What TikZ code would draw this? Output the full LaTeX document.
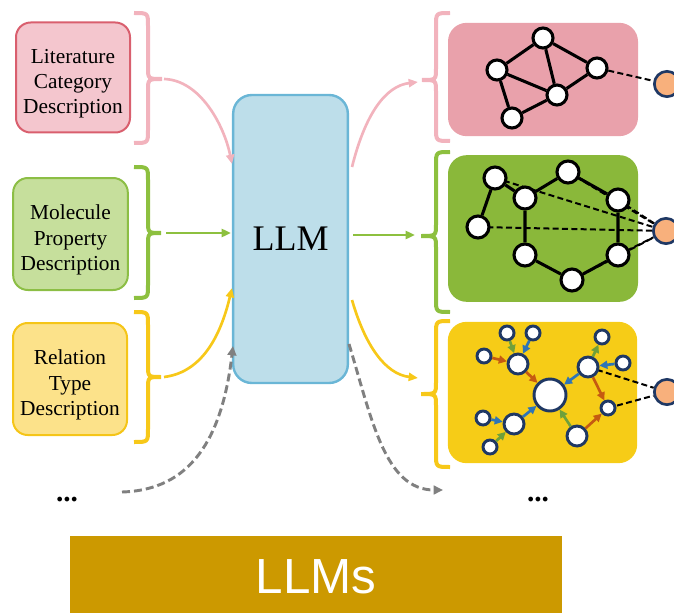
\documentclass[tikz,border=0pt]{standalone}
\usepackage{fontspec}
\setmainfont{Liberation Serif}
\newfontfamily\bannerfont{Liberation Sans}
\usetikzlibrary{arrows.meta}

\definecolor{litfill}{HTML}{F4C6CE}
\definecolor{litdraw}{HTML}{D95F6E}
\definecolor{pinkline}{HTML}{F2B3BD}
\definecolor{molfill}{HTML}{C6DF9C}
\definecolor{moldraw}{HTML}{8CBE45}
\definecolor{greenline}{HTML}{8DC03F}
\definecolor{relfill}{HTML}{FCE28A}
\definecolor{reldraw}{HTML}{F5C518}
\definecolor{yellowline}{HTML}{F7C819}
\definecolor{llmfill}{HTML}{BDDEEA}
\definecolor{llmdraw}{HTML}{6AB6D6}
\definecolor{pinkpanel}{HTML}{E9A1AB}
\definecolor{greenpanel}{HTML}{8AB83A}
\definecolor{yellowpanel}{HTML}{F6CC17}
\definecolor{navy}{HTML}{1F3864}
\definecolor{peach}{HTML}{F8B07C}
\definecolor{arrgreen}{HTML}{70A03A}
\definecolor{arrblue}{HTML}{2E75B6}
\definecolor{arrorange}{HTML}{C55A11}
\definecolor{flowgray}{HTML}{808080}
\definecolor{bannergold}{HTML}{CC9900}

\pgfdeclarelayer{boxes}
\pgfdeclarelayer{links}
\pgfsetlayers{boxes,links,main}

% curly brace: #1 end x, #2 spine x, #3 tip x, #4 top y, #5 tip y, #6 bottom y (y grows downward)
\newcommand\bracecurve[6]{%
 (#1,-#4) .. controls (#2,-#4) .. (#2,{-(#4+13)}) -- (#2,{-(#5-12)})
 .. controls (#2,-#5) .. (#3,-#5) .. controls (#2,-#5) .. (#2,{-(#5+12)})
 -- (#2,{-(#6-13)}) .. controls (#2,-#6) .. (#1,-#6)}
% taller first line, to sit the text block a little lower in its box
\newcommand\leadline{\rule{0pt}{20pt}}

\begin{document}
\begin{tikzpicture}[x=0.75pt,y=0.75pt,
  descbox/.style={draw, line width=1.5pt, rounded corners=11pt, align=center,
    inner sep=0pt, font=\fontsize{16}{19}\selectfont},
  panel/.style={rounded corners=14pt, inner sep=0pt},
  bracestroke/.style={line width=3pt},
  flow/.style={line width=2pt, -{Triangle[length=7pt,width=6pt]}},
  gflow/.style={flowgray, line width=2.2pt, dash pattern=on 6pt off 3pt,
    -{Triangle[length=7pt,width=6.5pt]}},
  wnode/.style={circle, draw=black, fill=white, line width=2.3pt, inner sep=0pt, minimum size=15pt},
  wnodeb/.style={wnode, minimum size=16.5pt},
  bond/.style={line width=2.3pt},
  dlink/.style={line width=1.5pt, dash pattern=on 4.5pt off 2.5pt},
  hub/.style={circle, draw=navy, fill=peach, line width=2pt, inner sep=0pt, minimum size=19pt},
  knode/.style={circle, draw=navy, fill=white, line width=2.2pt, inner sep=0pt},
  kbig/.style={knode, minimum size=24pt},
  kmid/.style={knode, minimum size=15pt},
  ksmall/.style={knode, minimum size=10.5pt},
  karr/.style={line width=2pt, -{Triangle[length=6pt,width=6pt]}}
]
\useasboundingbox (0,0) rectangle (674,-613);

% ---------- input descriptions ----------
\node[descbox, fill=litfill, draw=litdraw, minimum width=85.5pt, minimum height=82.5pt]
  (lit) at (73,-77.5) {\leadline Literature\\Category\\Description};
\node[descbox, fill=molfill, draw=moldraw, minimum width=86pt, minimum height=84pt]
  (mol) at (70.5,-234) {\leadline Molecule\\Property\\Description};
\node[descbox, fill=relfill, draw=reldraw, minimum width=85.5pt, minimum height=84pt]
  (rel) at (70,-379) {\leadline Relation\\Type\\Description};

\draw[bracestroke, pinkline] \bracecurve{134}{148}{162}{13}{79}{143};
\draw[bracestroke, greenline] \bracecurve{134}{148}{161}{167}{233}{298};
\draw[bracestroke, yellowline] \bracecurve{134}{148}{161}{312}{377}{442};

% ---------- LLM ----------
\node[draw=llmdraw, fill=llmfill, line width=1.8pt, rounded corners=14pt,
  minimum width=86pt, minimum height=216pt, inner sep=0pt,
  font=\fontsize{27}{30}\selectfont] (llm) at (290.5,-239) {LLM};

% ---------- output graph panels ----------
\begin{pgfonlayer}{boxes}
\node[panel, fill=pinkpanel, minimum width=142.5pt, minimum height=85pt] (p1) at (543,-79.5) {};
\node[panel, fill=greenpanel, minimum width=142.5pt, minimum height=110pt] (p2) at (543,-228.5) {};
\node[panel, fill=yellowpanel, minimum width=142pt, minimum height=106pt] (p3) at (542.5,-392.5) {};
\end{pgfonlayer}

\draw[bracestroke, pinkline] \bracecurve{450}{436}{422}{13}{80}{141};
\draw[bracestroke, greenline] \bracecurve{450}{436}{421}{152}{236}{312};
\draw[bracestroke, yellowline] \bracecurve{450}{436}{421}{321}{394}{467};

% ---------- flow connectors ----------
\coordinate (litTip) at (164,-79);
\coordinate (molTip) at (166,-233);
\coordinate (relTip) at (164,-377);
\coordinate (moreIn) at (122,-492);
\coordinate (inA) at (232,-164);
\coordinate (inB) at (231,-233);
\coordinate (inC) at (232,-288);
\coordinate (inD) at (233,-346);
\coordinate (outA) at (352,-167);
\coordinate (outB) at (353,-235);
\coordinate (outC) at (352,-300);
\coordinate (outD) at (349,-344);
\coordinate (tipA) at (418,-82);
\coordinate (tipB) at (415,-235);
\coordinate (tipC) at (418,-378);
\coordinate (tipD) at (443,-490);

\draw[flow, pinkline] (litTip) .. controls (200,-80) and (224,-125) .. (inA);
\draw[flow, greenline] (molTip) -- (inB);
\draw[flow, yellowline] (relTip) .. controls (205,-372) and (222,-330) .. (inC);
\draw[gflow] (moreIn) .. controls (190,-490) and (222,-440) .. (inD);

\draw[flow, pinkline] (outA) .. controls (365,-115) and (385,-86) .. (tipA);
\draw[flow, greenline] (outB) -- (tipB);
\draw[flow, yellowline] (outC) .. controls (365,-345) and (385,-374) .. (tipC);
\draw[gflow] (outD) .. controls (372,-420) and (385,-490) .. (tipD);

\node[anchor=base, font=\fontsize{22}{24}\selectfont\bfseries] (moreL) at (67,-501) {...};
\node[anchor=base, font=\fontsize{22}{24}\selectfont\bfseries] (moreR) at (538,-501) {...};

% ---------- graph 1: citation network ----------
\node[wnode] (a1) at (543,-38) {};
\node[wnode] (a2) at (497,-70) {};
\node[wnode] (a3) at (597,-68) {};
\node[wnode] (a4) at (557,-95) {};
\node[wnode] (a5) at (512,-118) {};
\node[hub] (h1) at (667,-84) {};
\begin{pgfonlayer}{links}
\draw[bond] (a1) -- (a2) (a1) -- (a3) (a1) -- (a4) (a2) -- (a4)
  (a2) -- (a5) (a5) -- (a4) (a4) -- (a3);
\draw[dlink] (a3) -- (h1);
\end{pgfonlayer}

% ---------- graph 2: molecule ----------
\node[wnodeb] (b1) at (495,-178) {};
\node[wnodeb] (b2) at (568,-172) {};
\node[wnodeb] (b3) at (525,-198) {};
\node[wnodeb] (b4) at (618,-200) {};
\node[wnodeb] (b5) at (478,-227) {};
\node[wnodeb] (b6) at (525,-255) {};
\node[wnodeb] (b7) at (618,-255) {};
\node[wnodeb] (b8) at (572,-280) {};
\node[hub] (h2) at (666,-231) {};
\begin{pgfonlayer}{links}
\draw[bond] (b1) -- (b5) (b1) -- (b3) (b3) -- (b2) (b2) -- (b4)
  (b4) -- (b7) (b7) -- (b8) (b8) -- (b6) (b6) -- (b3);
\draw[dlink] (b1.center) -- (h2) (b2.center) -- (h2) (b4.center) -- (h2)
  (b5.center) -- (h2) (b7.center) -- (h2) (b8.center) -- (h2);
\end{pgfonlayer}

% ---------- graph 3: typed relations ----------
\node[kbig] (c0) at (550,-395) {};
\node[kmid] (c1) at (518,-364) {};
\node[ksmall] (c2) at (507,-333) {};
\node[ksmall] (c3) at (533,-333) {};
\node[ksmall] (c4) at (484,-356) {};
\node[kmid] (c5) at (588,-367) {};
\node[ksmall] (c6) at (602,-337) {};
\node[ksmall] (c7) at (623,-363) {};
\node[ksmall] (c8) at (608,-408) {};
\node[kmid] (c9) at (514,-424) {};
\node[ksmall] (c10) at (483,-418) {};
\node[ksmall] (c11) at (490,-447) {};
\node[kmid] (c12) at (577,-436) {};
\node[hub] (h3) at (667,-392) {};
\begin{pgfonlayer}{links}
\draw[dlink] (c5.center) -- (h3) (c8.center) -- (h3);
\end{pgfonlayer}
\draw[karr, arrgreen] (c2) -- (c1);
\draw[karr, arrblue] (c3) -- (c1);
\draw[karr, arrorange] (c4) -- (c1);
\draw[karr, arrorange] (c1) -- (c0);
\draw[karr, arrblue] (c5) -- (c0);
\draw[karr, arrgreen] (c5) -- (c6);
\draw[karr, arrblue] (c7) -- (c5);
\draw[karr, arrorange] (c5) -- (c8);
\draw[karr, arrorange] (c12) -- (c8);
\draw[karr, arrgreen] (c12) -- (c0);
\draw[karr, arrblue] (c9) -- (c0);
\draw[karr, arrblue] (c10) -- (c9);
\draw[karr, arrgreen] (c11) -- (c9);

% ---------- banner ----------
\node[fill=bannergold, minimum width=369pt, minimum height=62pt, inner sep=0pt,
  text=white, font=\bannerfont\fontsize{37}{40}\selectfont] (llms) at (316,-577) {LLMs};
\end{tikzpicture}
\end{document}
